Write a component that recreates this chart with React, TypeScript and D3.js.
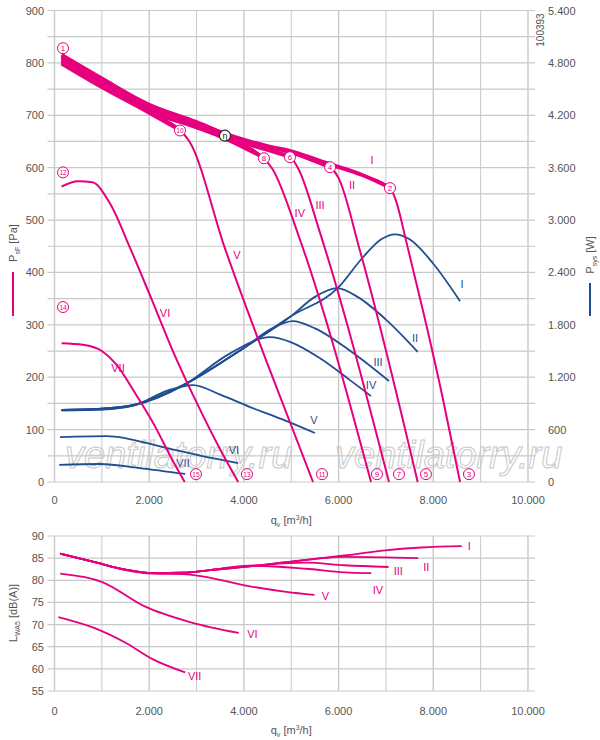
import React, { useEffect, useRef } from 'react';
import * as d3 from 'd3';

const PINK = '#e6007e';
const BLUE = '#1f4e93';
const GRID = '#c9c9c9';
const TXT = '#555';
const FONT = 'Liberation Sans, Arial, sans-serif';

type Pt = [number, number];

// pressure curves [q m3/h, Pa]
const pI: Pt[] = [[150, 815], [1000, 770], [2000, 720], [3000, 687], [3600, 665], [4500, 641], [5000, 631], [5800, 607], [6500, 586], [7080, 562], [7200, 540], [7440, 455], [7800, 320], [8200, 160], [8565, 0]];
const pII: Pt[] = [[150, 811], [1000, 766], [2000, 716], [3000, 683], [3600, 662], [4500, 639], [5000, 629], [5820, 601], [6000, 580], [6450, 442], [7670, 0]];
const pIII: Pt[] = [[150, 807], [1000, 762], [2000, 712], [3000, 680], [3600, 659], [4500, 634], [4970, 621], [5150, 598], [5610, 475], [7065, 0]];
const pIV: Pt[] = [[150, 803], [1000, 758], [2000, 708], [3000, 677], [3600, 656], [4400, 620], [4600, 598], [5190, 461], [6685, 0]];
const pV: Pt[] = [[150, 799], [1000, 754], [2000, 705], [2650, 672], [2850, 650], [3600, 446], [4500, 225], [5460, 0]];
const pVI: Pt[] = [[150, 564], [500, 574], [800, 572], [1170, 532], [1600, 446], [2000, 360], [2500, 250], [3000, 152], [3500, 62], [3880, 0]];
const pVII: Pt[] = [[150, 265], [600, 262], [1000, 250], [1300, 225], [1700, 170], [2100, 110], [2500, 40], [2750, 0]];
const pressureCurves = [pI, pII, pIII, pIV, pV, pVI, pVII];
// flow at which each curve leaves the common band
const kneeQ = [7080, 5820, 4970, 4400, 2650];

// system power curves [q, W]
const wI: Pt[] = [[150, 826], [1000, 840], [1660, 881], [2720, 1110], [3990, 1533], [5000, 1900], [5990, 2225], [6515, 2574], [6900, 2780], [7190, 2837], [7500, 2780], [8000, 2500], [8565, 2071]];
const wII: Pt[] = [[150, 826], [1000, 840], [1660, 881], [2720, 1110], [3990, 1533], [5000, 1900], [5500, 2120], [5970, 2220], [6400, 2120], [7000, 1860], [7670, 1491]];
const wIII: Pt[] = [[150, 826], [1000, 840], [1660, 881], [2720, 1110], [3990, 1533], [4600, 1760], [5030, 1842], [5500, 1760], [6300, 1480], [7065, 1156]];
const wIV: Pt[] = [[150, 820], [1000, 832], [1660, 875], [2720, 1105], [3700, 1470], [4550, 1659], [5000, 1600], [5600, 1420], [6240, 1167], [6685, 984]];
const wV: Pt[] = [[150, 820], [1000, 830], [1660, 875], [2400, 1050], [2930, 1110], [3500, 1000], [4130, 858], [4800, 720], [5500, 561]];
const wVI: Pt[] = [[116, 515], [1100, 526], [2370, 389], [3100, 300], [3880, 217]];
const wVII: Pt[] = [[100, 195], [960, 206], [1800, 160], [2760, 92]];
const powerCurves = [wI, wII, wIII, wIV, wV, wVI, wVII];

// sound power curves [q, dB(A)]
const sI: Pt[] = [[122, 86], [850, 84.1], [1500, 82.4], [2070, 81.6], [2720, 81.7], [3280, 82.3], [4180, 83.2], [4900, 84.1], [6120, 85.6], [6930, 86.7], [7745, 87.4], [8600, 87.7]];
const sII: Pt[] = [[122, 86], [850, 84.1], [1500, 82.4], [2070, 81.6], [2720, 81.7], [3280, 82.3], [4180, 83.2], [4900, 84.1], [6120, 85.3], [7680, 85]];
const sIII: Pt[] = [[122, 86], [850, 84.1], [1500, 82.4], [2070, 81.6], [2720, 81.7], [3280, 82.3], [4180, 83.3], [5310, 84], [6120, 83.4], [7055, 83]];
const sIV: Pt[] = [[122, 86], [850, 84.1], [1500, 82.4], [2070, 81.6], [2720, 81.7], [3280, 82.3], [4100, 83.3], [5310, 82.6], [6120, 81.8], [6690, 81.6]];
const sV: Pt[] = [[122, 86], [850, 84.1], [1500, 82.3], [2070, 81.5], [2720, 81.4], [3120, 80.9], [4100, 78.7], [4900, 77.4], [5490, 76.7]];
const sVI: Pt[] = [[122, 81.5], [1010, 79.6], [1905, 74.1], [2880, 70.5], [3890, 68.1]];
const sVII: Pt[] = [[81, 71.7], [850, 69.2], [1500, 65.9], [2070, 62.2], [2760, 59.2]];
const soundCurves = [sI, sII, sIII, sIV, sV, sVI, sVII];

const romans = ['I', 'II', 'III', 'IV', 'V', 'VI', 'VII'];
const pressureLabels: Pt[] = [[6705, 614], [6283, 566], [5607, 528], [5181, 513], [3855, 433], [2334, 322], [1341, 217]];
const powerLabels: Pt[] = [[8605, 2266], [7613, 1648], [6832, 1373], [6685, 1110], [5480, 709], [3790, 366], [2714, 217]];
const soundLabels: Pt[] = [[8760, 87.8], [7850, 83.1], [7260, 82.1], [6830, 77.9], [5720, 76.4], [4180, 67.8], [2960, 58.3]];

// operating point markers [label, q, Pa]
const markers: [string, number, number][] = [
  ['1', 180, 828], ['2', 7085, 561], ['3', 8753, 15], ['4', 5820, 601], ['5', 7846, 15],
  ['6', 4973, 620], ['7', 7275, 15], ['8', 4424, 618], ['9', 6810, 15], ['10', 2650, 671],
  ['11', 5650, 15], ['12', 180, 591], ['13', 4065, 15], ['14', 180, 334], ['15', 2988, 15],
];
const etaPoint: Pt = [3600, 661];

const qTicks = [0, 2000, 4000, 6000, 8000, 10000];
const paTicks = [0, 100, 200, 300, 400, 500, 600, 700, 800, 900];
const wTicks = [0, 600, 1200, 1800, 2400, 3000, 3600, 4200, 4800, 5400];
const dbTicks = [55, 60, 65, 70, 75, 80, 85, 90];

const fmtQ = (v: number) => (v === 0 ? '0' : d3.format(',.0f')(v).replace(',', '.'));

export default function App() {
  const ref = useRef<SVGSVGElement>(null);

  useEffect(() => {
    const svg = d3.select(ref.current);
    svg.selectAll('*').remove();

    const x = d3.scaleLinear().domain([0, 10000]).range([54.5, 528]);
    const yP = d3.scaleLinear().domain([0, 900]).range([482, 10.5]);
    const yW = d3.scaleLinear().domain([0, 5400]).range([482, 10.5]);
    const yD = d3.scaleLinear().domain([55, 90]).range([691, 536]);

    const grid = (yScale: d3.ScaleLinear<number, number>, yVals: number[], y0: number, y1: number) => {
      const g = svg.append('g');
      d3.range(0, 10001, 1000).forEach((q) => {
        g.append('line').attr('x1', x(q)).attr('x2', x(q)).attr('y1', y0).attr('y2', y1)
          .attr('stroke', GRID).attr('stroke-width', q % 2000 === 0 ? 1.4 : 1);
      });
      yVals.forEach((v) => {
        g.append('line').attr('x1', x(0) - 7).attr('x2', x(10000) + 7).attr('y1', yScale(v)).attr('y2', yScale(v))
          .attr('stroke', GRID).attr('stroke-width', 1.2);
      });
    };
    grid(yP, d3.range(0, 901, 50), yP(0), yP(900));
    grid(yD, d3.range(55, 91, 5), yD(55), yD(90));

    // watermark
    [65, 335].forEach((wx) => {
      svg.append('text').attr('x', wx).attr('y', 468).attr('font-family', FONT).attr('font-size', 38)
        .attr('font-style', 'italic').attr('fill', 'none').attr('stroke', '#c8c8c8').attr('stroke-width', 1)
        .text('ventilatorry.ru');
    });

    const text = (tx: number, ty: number, s: string, size: number, fill: string, anchor = 'start') =>
      svg.append('text').attr('x', tx).attr('y', ty).attr('font-family', FONT).attr('font-size', size)
        .attr('fill', fill).attr('text-anchor', anchor).text(s);

    paTicks.forEach((v) => text(44, yP(v) + 4, String(v), 11, TXT, 'end'));
    wTicks.forEach((v) => text(548, yW(v) + 4, fmtQ(v), 11, TXT));
    dbTicks.forEach((v) => text(44, yD(v) + 4, String(v), 11, TXT, 'end'));
    qTicks.forEach((v) => {
      text(x(v), 504, fmtQ(v), 11, TXT, 'middle');
      text(x(v), 715, fmtQ(v), 11, TXT, 'middle');
    });
    const qTitle = (ty: number) => {
      const t = svg.append('text').attr('x', x(5000)).attr('y', ty).attr('font-family', FONT).attr('font-size', 11)
        .attr('fill', TXT).attr('text-anchor', 'middle');
      t.append('tspan').text('q');
      t.append('tspan').attr('font-size', 7).attr('dy', 3).text('v');
      t.append('tspan').attr('dy', -3).text(' [m');
      t.append('tspan').attr('font-size', 7).attr('dy', -4).text('3');
      t.append('tspan').attr('dy', 4).text('/h]');
    };
    qTitle(524);
    qTitle(734);

    const rotTitle = (tx: number, ty: number, main: string, sub: string, unit: string) => {
      const t = svg.append('text').attr('transform', `translate(${tx},${ty}) rotate(-90)`).attr('font-family', FONT)
        .attr('font-size', 11).attr('fill', TXT).attr('text-anchor', 'middle');
      t.append('tspan').text(main);
      t.append('tspan').attr('font-size', 7).attr('dy', 3).text(sub);
      t.append('tspan').attr('dy', -3).text(' ' + unit);
    };
    rotTitle(17, 243, 'P', 'sF', '[Pa]');
    svg.append('line').attr('x1', 13).attr('x2', 13).attr('y1', 272).attr('y2', 316).attr('stroke', PINK).attr('stroke-width', 2);
    rotTitle(594, 255, 'P', 'sys', '[W]');
    svg.append('line').attr('x1', 590).attr('x2', 590).attr('y1', 283).attr('y2', 316).attr('stroke', BLUE).attr('stroke-width', 2);
    rotTitle(17, 613, 'L', 'WA5', '[dB(A)]');
    svg.append('text').attr('transform', 'translate(544,30) rotate(-90)').attr('font-family', FONT).attr('font-size', 10)
      .attr('fill', TXT).attr('text-anchor', 'middle').text('100393');

    const lineP = d3.line<Pt>().x((d) => x(d[0])).y((d) => yP(d[1])).curve(d3.curveMonotoneX);
    const lineW = d3.line<Pt>().x((d) => x(d[0])).y((d) => yW(d[1])).curve(d3.curveMonotoneX);
    const lineD = d3.line<Pt>().x((d) => x(d[0])).y((d) => yD(d[1])).curve(d3.curveMonotoneX);

    powerCurves.forEach((c) => svg.append('path').attr('d', lineW(c) ?? '').attr('fill', 'none').attr('stroke', BLUE).attr('stroke-width', 1.8));
    pressureCurves.forEach((c) => svg.append('path').attr('d', lineP(c) ?? '').attr('fill', 'none').attr('stroke', PINK).attr('stroke-width', 2));
    kneeQ.forEach((k, i) => {
      const part = pressureCurves[i].filter((d) => d[0] <= k);
      svg.append('path').attr('d', lineP(part) ?? '').attr('fill', 'none').attr('stroke', PINK).attr('stroke-width', 4);
    });
    soundCurves.forEach((c) => svg.append('path').attr('d', lineD(c) ?? '').attr('fill', 'none').attr('stroke', PINK).attr('stroke-width', 1.8));

    pressureLabels.forEach((p, i) => text(x(p[0]), yP(p[1]) + 4, romans[i], 11, PINK, 'middle'));
    powerLabels.forEach((p, i) => text(x(p[0]), yW(p[1]) + 4, romans[i], 11, BLUE, 'middle'));
    soundLabels.forEach((p, i) => text(x(p[0]), yD(p[1]) + 4, romans[i], 11, PINK, 'middle'));

    markers.forEach(([s, q, p]) => {
      svg.append('circle').attr('cx', x(q)).attr('cy', yP(p)).attr('r', 5.5).attr('fill', '#fff').attr('stroke', PINK).attr('stroke-width', 1);
      text(x(q), yP(p) + 3, s, s.length > 1 ? 6.5 : 8, PINK, 'middle');
    });
    svg.append('circle').attr('cx', x(etaPoint[0])).attr('cy', yP(etaPoint[1])).attr('r', 5.5).attr('fill', '#fff').attr('stroke', '#222').attr('stroke-width', 1.2);
    text(x(etaPoint[0]), yP(etaPoint[1]) + 3, 'η', 9, '#222', 'middle');
  }, []);

  return (
    <svg ref={ref} width={600} height={740} style={{ position: 'absolute', left: 0, top: 0, background: '#fff' }} />
  );
}
